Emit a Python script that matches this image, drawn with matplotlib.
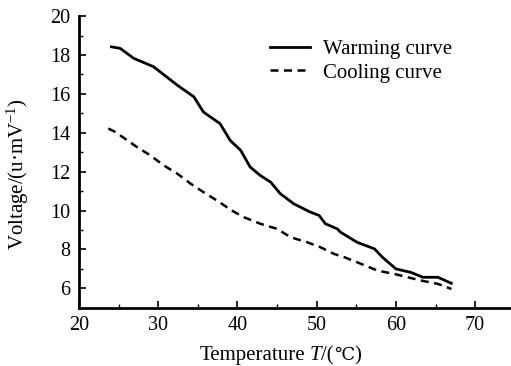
# Warming / cooling voltage curves vs temperature
import numpy as np
import matplotlib
matplotlib.use('Agg')
import matplotlib.pyplot as plt
from matplotlib.ticker import MultipleLocator

plt.rcParams['font.family'] = ['Liberation Serif', 'DejaVu Serif', 'DejaVu Sans']
plt.rcParams['mathtext.fontset'] = 'custom'
plt.rcParams['mathtext.rm'] = 'Liberation Serif'
plt.rcParams['mathtext.it'] = 'Liberation Serif:italic'

# warming curve
warm_T = [24.1, 25.2, 26.9, 29.4, 32.4, 34.5, 35.7, 37.8, 39.1, 40.4, 41.6,
          42.9, 44.2, 45.4, 47.1, 49.2, 50.3, 51.1, 52.6, 53.0, 55.1, 57.3,
          58.3, 60.0, 61.9, 63.4, 65.3, 67.0]
warm_V = [18.42, 18.34, 17.83, 17.4, 16.45, 15.85, 15.07, 14.47, 13.6, 13.1, 12.24,
          11.8, 11.46, 10.87, 10.35, 9.92, 9.75, 9.32, 9.06, 8.89, 8.37, 8.03,
          7.6, 7.0, 6.82, 6.57, 6.57, 6.26]

# cooling curve
cool_T = [23.7, 24.6, 27.3, 29.0, 30.7, 32.4, 34.1, 35.7, 37.4, 39.3, 40.8,
          42.9, 45.0, 46.7, 48.8, 50.5, 52.2, 53.5, 55.6, 57.7, 59.8, 61.5,
          63.2, 65.3, 67.0]
cool_V = [14.22, 14.04, 13.27, 12.84, 12.32, 11.9, 11.38, 10.95, 10.52, 10.0, 9.66,
          9.32, 9.06, 8.63, 8.37, 8.11, 7.77, 7.6, 7.26, 6.91, 6.74, 6.57,
          6.4, 6.23, 5.97]

fig = plt.figure(figsize=(5.11, 3.66), dpi=100)
ax = fig.add_axes([0.1546, 0.159, 0.845, 0.797])

ax.plot(warm_T, warm_V, color='black', lw=2.0, label='Warming curve')
ax.plot(cool_T, cool_V, color='black', lw=1.8, dashes=(3.2, 2.2), label='Cooling curve')

ax.set_xlim(20, 74.5)
ax.set_ylim(5, 20)
ax.xaxis.set_major_locator(MultipleLocator(10))
ax.xaxis.set_minor_locator(MultipleLocator(5))
ax.yaxis.set_minor_locator(MultipleLocator(1))
ax.set_yticks([6, 8, 10, 12, 14, 16, 18, 20])

for s in ['top', 'right']:
    ax.spines[s].set_visible(False)
for s in ['left', 'bottom']:
    ax.spines[s].set_linewidth(2.0)

ax.tick_params(which='major', direction='in', length=5, width=1.2, labelsize=14.5, pad=6)
ax.tick_params(which='minor', direction='in', length=3, width=1.0)

# y label
fig.text(5 / 511, 1 - 174 / 366, 'Voltage/(u·mV$^{-1}$)', rotation=90,
         ha='left', va='center', fontsize=15)

# x label in pieces so T is italic and ℃ can fall back to DejaVu
t1 = fig.text(200 / 511, 1 - 365 / 366, 'Temperature', fontsize=15, va='bottom')
t2 = ax.annotate('T', xy=(1, 0), xycoords=t1, xytext=(3, 0), textcoords='offset points',
                 fontsize=15, fontstyle='italic', va='bottom')
t3 = ax.annotate('/(', xy=(1, 0), xycoords=t2, fontsize=15, va='bottom')
t4 = ax.annotate('℃', xy=(1, 0), xycoords=t3, xytext=(0, 1), textcoords='offset points',
                 fontsize=13, va='bottom', family=['DejaVu Serif', 'DejaVu Sans'])
t5 = ax.annotate(')', xy=(1, 0), xycoords=t4, xytext=(0, -1), textcoords='offset points',
                 fontsize=15, va='bottom')

ax.legend(loc='upper left', bbox_to_anchor=(0.40, 0.985), frameon=False, fontsize=15,
          handlelength=1.9, handletextpad=0.63, labelspacing=0.2)

fig.savefig('out.png', dpi=100)
